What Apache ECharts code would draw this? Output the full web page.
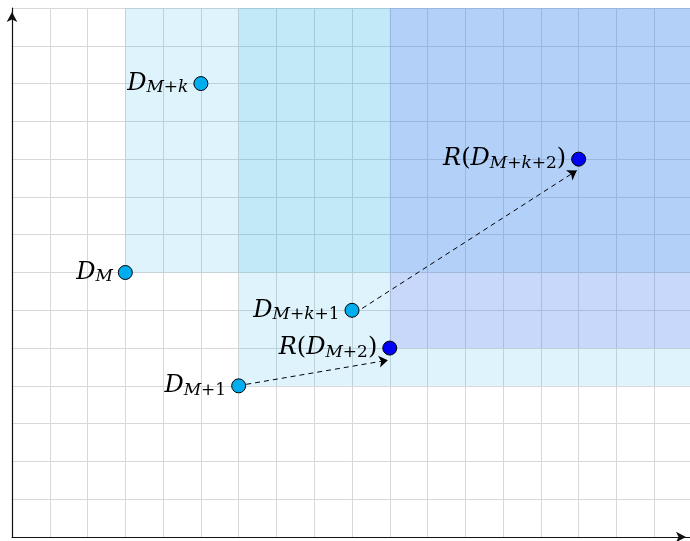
<!DOCTYPE html>
<html><head><meta charset="utf-8">
<script src="https://cdn.jsdelivr.net/npm/echarts@6/dist/echarts.min.js"></script>
<style>html,body{margin:0;padding:0;background:#fff}#c{width:690px;height:541px}</style>
</head><body><div id="c"></div>
<script>
// axis extents (tick labels are hidden in the reference)
const xMax = 18, yMax = 14;
// cyan points (original data points)
const cyanLabels = ['D_{M+k}', 'D_{M}', 'D_{M+k+1}', 'D_{M+1}'];
const cyanX = [5, 3, 9, 6];
const cyanY = [12, 7, 6, 4];
// blue points (results)
const blueLabels = ['R(D_{M+2})', 'R(D_{M+k+2})'];
const blueX = [10, 15];
const blueY = [5, 10];
// shaded regions [x1, y1, x2, y2]
const cyanRegions = [[3, 7, 18, 14], [6, 4, 18, 14]];
const blueRegions = [[10, 5, 18, 14]];
// dashed arrows: start and end (data units)
const arrowStart = [[6.2, 4.04], [9.27, 6.05]];
const arrowEnd = [[9.95, 4.68], [14.95, 9.7]];

function toRich(s) {
  let out = '', i = 0;
  const tok = (st, t) => '{' + st + '|' + t + '}';
  while (i < s.length) {
    if (s[i] === '_' && s[i + 1] === '{') {
      const j = s.indexOf('}', i);
      const sub = s.slice(i + 2, j);
      for (const ch of sub) out += tok(/[A-Za-z]/.test(ch) ? 'sit' : 'srm', ch);
      i = j + 1;
    } else {
      const ch = s[i];
      out += tok(/[A-Za-z]/.test(ch) ? 'it' : 'rm', ch);
      i++;
    }
  }
  return out;
}
const F = 'DejaVu Serif';
const rich = {
  it: {fontFamily: F, fontStyle: 'italic', fontSize: 24, lineHeight: 26, color: '#000'},
  rm: {fontFamily: F, fontSize: 24, lineHeight: 26, color: '#000'},
  sit: {fontFamily: F, fontStyle: 'italic', fontSize: 17, lineHeight: 10, verticalAlign: 'bottom', color: '#000'},
  srm: {fontFamily: F, fontSize: 17, lineHeight: 10, verticalAlign: 'bottom', color: '#000'}
};
const labelCfg = {
  show: true, position: 'left', distance: 5,
  formatter: p => toRich(p.name), rich: rich
};

const areaData = [];
cyanRegions.forEach(r => areaData.push([
  {xAxis: r[0], yAxis: r[1], itemStyle: {color: 'rgba(20,170,230,0.14)'}},
  {xAxis: r[2], yAxis: r[3]}]));
blueRegions.forEach(r => areaData.push([
  {xAxis: r[0], yAxis: r[1], itemStyle: {color: 'rgba(112,103,246,0.2)'}},
  {xAxis: r[2], yAxis: r[3]}]));

const chart = echarts.init(document.getElementById('c'), null, {renderer: 'canvas'});
chart.setOption({
  animation: false,
  grid: {left: 12, width: 680, top: 8, bottom: 4, containLabel: false, outerBoundsMode: 'none'},
  xAxis: {
    type: 'value', min: 0, max: xMax, interval: 1,
    axisLabel: {show: false}, axisTick: {show: false},
    axisLine: {show: true, onZero: false, symbol: ['none', 'arrow'], symbolSize: [8, 10], symbolOffset: [0, -6],
      lineStyle: {color: '#111', width: 1.2}},
    splitLine: {show: true, lineStyle: {color: '#d8d8d8', width: 1}}
  },
  yAxis: {
    type: 'value', min: 0, max: yMax, interval: 1,
    axisLabel: {show: false}, axisTick: {show: false},
    axisLine: {show: true, onZero: false, symbol: ['none', 'arrow'], symbolSize: [8, 10], symbolOffset: [0, -4],
      lineStyle: {color: '#111', width: 1.2}},
    splitLine: {show: true, lineStyle: {color: '#d8d8d8', width: 1}}
  },
  series: [
    {
      type: 'scatter', z: 1, data: [], silent: true,
      markArea: {silent: true, data: areaData}
    },
    {
      type: 'lines', coordinateSystem: 'cartesian2d', z: 3, polyline: false,
      symbol: ['none', 'arrow'], symbolSize: [0, 9],
      lineStyle: {color: '#000', width: 1, type: [5, 4], opacity: 1},
      data: arrowStart.map((s, i) => ({coords: [s, arrowEnd[i]]}))
    },
    {
      type: 'scatter', z: 4, symbolSize: 14,
      itemStyle: {color: '#00aeef', borderColor: '#000', borderWidth: 1, opacity: 1},
      label: labelCfg,
      data: cyanX.map((x, i) => ({name: cyanLabels[i], value: [x, cyanY[i]]}))
    },
    {
      type: 'scatter', z: 4, symbolSize: 14,
      itemStyle: {color: '#0000f5', borderColor: '#000', borderWidth: 1, opacity: 1},
      label: labelCfg,
      data: blueX.map((x, i) => ({name: blueLabels[i], value: [x, blueY[i]]}))
    }
  ]
});
</script></body></html>
